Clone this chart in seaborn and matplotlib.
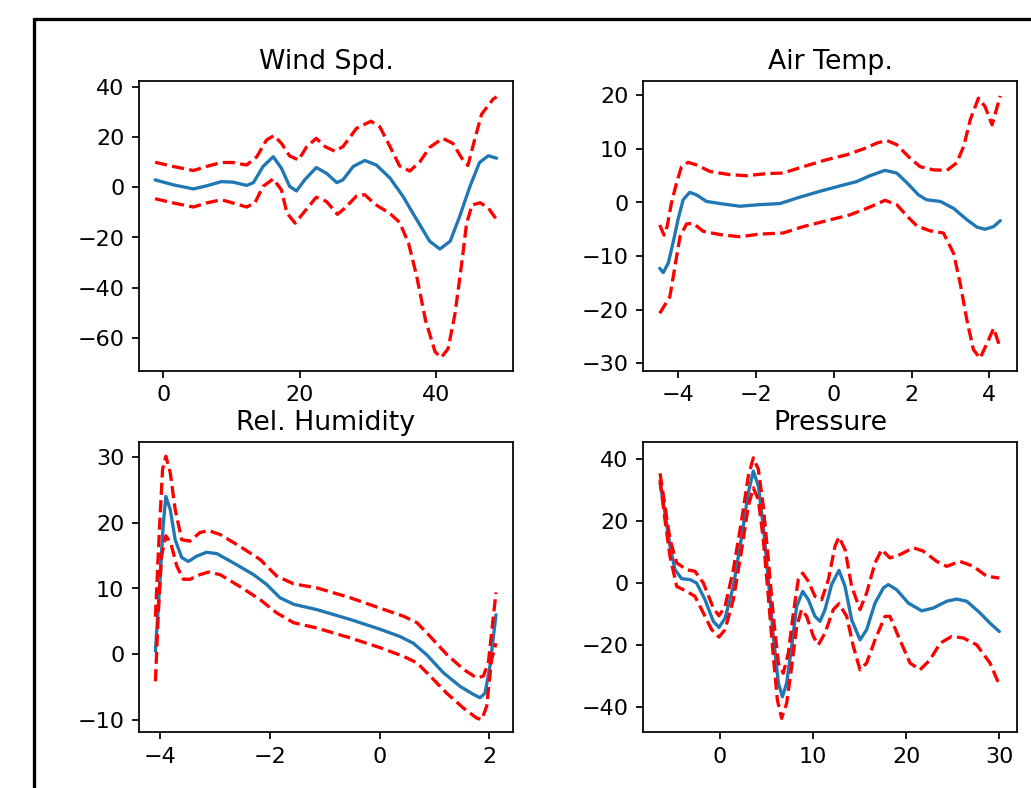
import matplotlib
matplotlib.use("Agg")
import matplotlib.pyplot as plt
import matplotlib.patches as mpatches
import seaborn as sns

# ---- Wind Spd. ----
wind_x_mean = [-1.2, 1.5, 4.4, 6.3, 8.5, 10.2, 12.2, 13.2, 14.6, 16.1, 17.3, 18.5, 19.5, 20.7, 22.4, 23.9,
               25.4, 26.3, 27.8, 29.5, 31.2, 33.2, 35.1, 37.1, 39.0, 40.5, 42.0, 43.4, 44.9, 46.3, 47.6, 48.8]
wind_mean = [2.9, 0.9, -0.7, 0.5, 2.2, 2.0, 0.7, 1.8, 8.2, 12.1, 7.5, 0.3, -1.5, 2.9, 7.8, 5.5,
             1.8, 2.9, 8.2, 10.6, 8.8, 3.6, -3.7, -12.9, -21.5, -24.6, -21.5, -11.6, 0.3, 9.8, 12.5, 11.5]
wind_x_upper = [-1.2, 1.5, 4.4, 6.3, 8.5, 10.2, 12.2, 13.7, 15.1, 16.2, 17.3, 18.5, 19.8, 21.0, 22.4, 23.7,
                25.1, 26.3, 28.3, 30.4, 31.7, 33.2, 34.6, 36.1, 37.6, 39.0, 40.9, 42.4, 43.7, 44.6, 45.6,
                46.6, 48.3, 48.8]
wind_upper = [9.9, 8.2, 6.6, 8.2, 9.8, 9.8, 8.8, 12.1, 18.7, 20.5, 17.4, 12.4, 10.8, 16.1, 19.4, 16.1,
              14.3, 16.1, 23.4, 26.2, 24.0, 16.1, 8.4, 6.4, 10.2, 15.8, 19.4, 17.4, 11.5, 8.6, 19.0,
              29.0, 35.0, 35.9]
wind_x_lower = [-1.2, 1.5, 4.4, 6.3, 8.5, 10.2, 12.2, 13.4, 14.6, 16.1, 17.3, 18.1, 19.3, 20.5, 22.4, 23.9,
                25.5, 26.6, 28.3, 29.5, 31.0, 33.2, 34.6, 35.9, 37.1, 38.4, 39.8, 40.7, 41.7, 42.7, 43.7,
                44.4, 45.2, 46.4, 47.6, 48.8]
wind_lower = [-4.6, -6.3, -7.9, -6.3, -5.0, -6.3, -7.9, -6.3, 0.3, 3.3, -1.1, -10.3, -14.3, -10.3, -4.0, -5.7,
              -10.8, -8.3, -3.5, -3.0, -6.8, -10.5, -14.0, -22.2, -35.4, -53.0, -65.5, -67.7, -64.2, -50.5, -30.1,
              -14.5, -7.1, -6.2, -8.3, -12.9]

# ---- Air Temp. ----
temp_x_mean = [-4.47, -4.38, -4.25, -4.13, -4.0, -3.87, -3.70, -3.52, -3.27, -2.92, -2.41, -1.90, -1.38, -0.87,
               -0.35, 0.16, 0.59, 0.93, 1.32, 1.62, 1.88, 2.18, 2.39, 2.74, 3.08, 3.42, 3.68, 3.89, 4.11, 4.28]
temp_mean = [-12.3, -13.1, -11.3, -7.6, -3.2, 0.5, 1.9, 1.4, 0.2, -0.2, -0.7, -0.4, -0.2, 1.0,
             2.1, 3.1, 3.9, 5.0, 6.0, 5.5, 3.7, 1.4, 0.5, 0.2, -1.1, -3.2, -4.6, -5.0, -4.5, -3.4]
temp_x_upper = [-4.47, -4.36, -4.28, -4.17, -4.04, -3.91, -3.74, -3.52, -3.18, -2.67, -2.24, -1.72, -1.30, -0.78,
                -0.18, 0.33, 0.76, 1.11, 1.36, 1.62, 1.96, 2.22, 2.56, 2.91, 3.16, 3.34, 3.51, 3.72, 3.89, 4.07,
                4.19, 4.28]
temp_upper = [-4.2, -6.1, -4.5, -0.1, 3.6, 6.7, 7.5, 7.0, 5.8, 5.2, 5.0, 5.4, 5.5, 6.7,
              8.0, 8.9, 10.0, 11.1, 11.6, 10.8, 8.3, 6.7, 6.1, 6.0, 7.4, 10.5, 15.5, 19.5, 17.9, 14.5,
              17.6, 19.9]
temp_x_lower = [-4.47, -4.21, -4.08, -3.95, -3.78, -3.61, -3.35, -2.92, -2.41, -1.90, -1.30, -0.78, -0.18, 0.42,
                0.85, 1.32, 1.62, 1.88, 2.14, 2.48, 2.82, 3.08, 3.25, 3.42, 3.59, 3.76, 3.94, 4.11, 4.28]
temp_lower = [-20.7, -17.6, -12.0, -6.4, -4.0, -3.9, -5.4, -6.0, -6.4, -5.9, -5.7, -4.5, -3.4, -2.3,
              -1.1, 0.4, -0.4, -2.5, -4.4, -5.3, -5.7, -9.5, -15.1, -21.9, -27.5, -29.1, -26.3, -23.5, -27.2]

# ---- Rel. Humidity ----
hum_x_mean = [-4.09, -4.01, -3.95, -3.90, -3.82, -3.73, -3.61, -3.49, -3.34, -3.16, -2.97, -2.67, -2.30, -2.06,
              -1.82, -1.57, -1.15, -0.54, 0.01, 0.37, 0.61, 0.86, 1.16, 1.47, 1.71, 1.83, 1.92, 2.01, 2.12]
hum_mean = [0.5, 10.9, 19.5, 24.0, 22.0, 17.4, 14.7, 14.1, 14.9, 15.5, 15.3, 13.9, 12.1, 10.6,
            8.6, 7.6, 6.8, 5.3, 3.8, 2.7, 1.7, -0.1, -2.8, -4.9, -6.1, -6.6, -5.9, -1.8, 6.0]
hum_x_upper = [-4.09, -4.02, -3.96, -3.90, -3.82, -3.73, -3.61, -3.46, -3.28, -3.12, -2.91, -2.55, -2.18, -1.88,
               -1.57, -1.15, -0.54, 0.01, 0.43, 0.68, 0.92, 1.22, 1.53, 1.77, 1.89, 1.98, 2.12]
hum_upper = [5.7, 18.5, 28.1, 30.1, 27.6, 22.0, 17.4, 17.2, 18.5, 18.8, 18.2, 16.4, 14.4, 11.9,
             10.7, 10.1, 8.6, 7.0, 5.8, 4.8, 2.7, 0.0, -2.3, -3.6, -3.3, -1.3, 9.4]
hum_x_lower = [-4.09, -4.04, -3.98, -3.90, -3.81, -3.70, -3.58, -3.46, -3.28, -3.12, -2.91, -2.55, -2.18, -1.88,
               -1.57, -1.15, -0.54, 0.01, 0.43, 0.68, 0.92, 1.22, 1.53, 1.77, 1.86, 1.95, 2.04, 2.12]
hum_lower = [-4.1, 5.8, 14.9, 18.0, 16.9, 13.4, 11.4, 11.4, 12.1, 12.5, 12.1, 10.3, 8.3, 6.3,
             4.8, 4.0, 2.5, 1.0, -0.3, -1.3, -3.3, -5.9, -8.2, -9.7, -9.9, -7.9, -0.8, 1.7]

# ---- Pressure ----
pres_x_mean = [-6.44, -5.91, -5.37, -4.83, -4.12, -3.22, -2.51, -1.61, -0.72, -0.11, 0.54, 1.43, 2.33, 3.04,
               3.58, 4.12, 4.65, 5.19, 5.73, 6.27, 6.70, 7.16, 7.70, 8.23, 8.88, 9.49, 10.20, 10.74, 11.28,
               11.99, 12.78, 13.43, 14.14, 15.04, 15.75, 16.65, 17.55, 18.08, 18.98, 20.23, 21.66, 22.91,
               24.35, 25.42, 26.50, 27.93, 29.0, 30.0]
pres_mean = [32.4, 22.7, 11.9, 4.3, 1.4, 1.1, 0.0, -5.4, -12.4, -14.4, -11.4, -1.1, 15.1, 29.2,
             36.2, 31.4, 18.4, 1.1, -17.3, -32.4, -36.8, -32.4, -20.5, -7.6, -2.7, -5.4, -10.8, -12.4, -8.6,
             -0.5, 4.1, -1.1, -11.9, -18.4, -15.1, -6.5, -1.6, -0.5, -2.2, -6.5, -9.0, -8.1,
             -5.9, -5.2, -5.9, -9.7, -13.0, -15.7]
pres_x_upper = [-6.44, -5.91, -5.37, -4.65, -3.58, -2.69, -1.79, -0.72, -0.11, 0.54, 1.43, 2.33, 3.04, 3.58,
                4.12, 4.65, 5.19, 5.73, 6.27, 6.80, 7.34, 7.88, 8.41, 8.88, 9.49, 10.20, 10.92, 11.64, 12.35,
                12.78, 13.43, 14.14, 15.04, 15.75, 16.65, 17.37, 18.26, 19.34, 20.77, 21.84, 23.27, 24.35,
                25.78, 27.21, 28.64, 30.0]
pres_upper = [35.5, 24.9, 14.1, 6.5, 4.3, 3.8, 0.0, -8.1, -10.6, -7.6, 4.3, 20.5, 34.6, 40.5,
              36.8, 24.9, 7.6, -10.8, -25.9, -29.2, -22.7, -9.7, 1.1, 3.2, 0.5, -4.3, -5.4, 1.1, 11.9,
              14.9, 10.8, -1.1, -8.6, -3.2, 6.5, 10.8, 8.1, 9.2, 11.4, 10.3, 7.0, 5.4,
              7.0, 5.4, 2.2, 1.6]
pres_x_lower = [-6.44, -5.91, -5.37, -4.65, -3.58, -2.69, -1.79, -0.90, -0.11, 0.54, 1.43, 2.33, 3.04, 3.58,
                4.12, 4.65, 5.19, 5.73, 6.16, 6.62, 7.16, 7.70, 8.23, 8.77, 9.31, 10.03, 10.56, 11.28, 12.17,
                12.78, 13.61, 14.32, 15.04, 15.75, 16.65, 17.72, 18.26, 19.16, 20.41, 21.48, 22.55, 23.63,
                24.88, 26.14, 27.57, 29.0, 30.0]
pres_lower = [33.5, 20.5, 8.6, -1.1, -2.7, -4.3, -9.7, -15.1, -17.5, -15.1, -5.4, 10.8, 24.9, 30.8,
              27.0, 14.1, -4.3, -23.8, -37.8, -43.8, -38.9, -27.0, -14.1, -8.6, -10.8, -17.3, -20.0, -16.2, -8.6,
              -6.7, -10.8, -20.5, -28.1, -25.9, -18.4, -10.8, -10.8, -17.3, -25.9, -28.1, -24.9, -19.5,
              -17.3, -17.8, -20.0, -25.9, -33.0]

titles = ["Wind Spd.", "Air Temp.", "Rel. Humidity", "Pressure"]
xticks = [[0, 20, 40], [-4, -2, 0, 2, 4], [-4, -2, 0, 2], [0, 10, 20, 30]]
yticks = [[-60, -40, -20, 0, 20, 40], [-30, -20, -10, 0, 10, 20],
          [-10, 0, 10, 20, 30], [-40, -20, 0, 20, 40]]
xlims = [(-3.56, 51.2), (-4.9, 4.71), (-4.39, 2.43), (-8.27, 31.9)]
ylims = [(-72.9, 42.2), (-31.4, 22.7), (-11.8, 32.2), (-48.2, 45.5)]

panels = [
    (wind_x_mean, wind_mean, wind_x_upper, wind_upper, wind_x_lower, wind_lower),
    (temp_x_mean, temp_mean, temp_x_upper, temp_upper, temp_x_lower, temp_lower),
    (hum_x_mean, hum_mean, hum_x_upper, hum_upper, hum_x_lower, hum_lower),
    (pres_x_mean, pres_mean, pres_x_upper, pres_upper, pres_x_lower, pres_lower),
]

sns.set_theme(style="ticks")
plt.rcParams.update({
    "font.family": ["DejaVu Sans"],
    "font.size": 10.8,
    "xtick.labelsize": 10.8,
    "ytick.labelsize": 10.8,
    "axes.titlesize": 13,
    "axes.edgecolor": "black",
    "axes.linewidth": 0.85,
    "xtick.color": "black",
    "ytick.color": "black",
    "text.color": "black",
    "xtick.major.size": 3.6,
    "ytick.major.size": 3.6,
    "xtick.major.width": 0.85,
    "ytick.major.width": 0.85,
    "xtick.major.pad": 3.5,
    "ytick.major.pad": 3.5,
})

fig, axes = plt.subplots(2, 2, figsize=(6.9664, 5.3245), dpi=148)
plt.subplots_adjust(left=0.1348, right=0.9864, bottom=0.0711, top=0.8972, wspace=0.3476, hspace=0.248)

for ax, (xm, ym, xu, yu, xl, yl), title, xt, yt, xlim, ylim in zip(
        axes.flat, panels, titles, xticks, yticks, xlims, ylims):
    sns.lineplot(x=xm, y=ym, ax=ax, color="#1f77b4", linewidth=1.6, errorbar=None)
    sns.lineplot(x=xu, y=yu, ax=ax, color="red", linestyle="--", linewidth=1.6, errorbar=None)
    sns.lineplot(x=xl, y=yl, ax=ax, color="red", linestyle="--", linewidth=1.6, errorbar=None)
    ax.set_title(title)
    ax.set_xticks(xt)
    ax.set_yticks(yt)
    ax.set_xlim(*xlim)
    ax.set_ylim(*ylim)
    ax.set_xlabel("")
    ax.set_ylabel("")
    for s in ax.spines.values():
        s.set_visible(True)

# thick frame around the figure (cropped at right and bottom)
frame = mpatches.Rectangle((34 / 1031, -0.05), 1.0, 1 - 18.7 / 788 + 0.05,
                           transform=fig.transFigure, fill=False,
                           edgecolor="black", linewidth=1.6, clip_on=False)
fig.add_artist(frame)

fig.savefig("out.png", dpi=148)
